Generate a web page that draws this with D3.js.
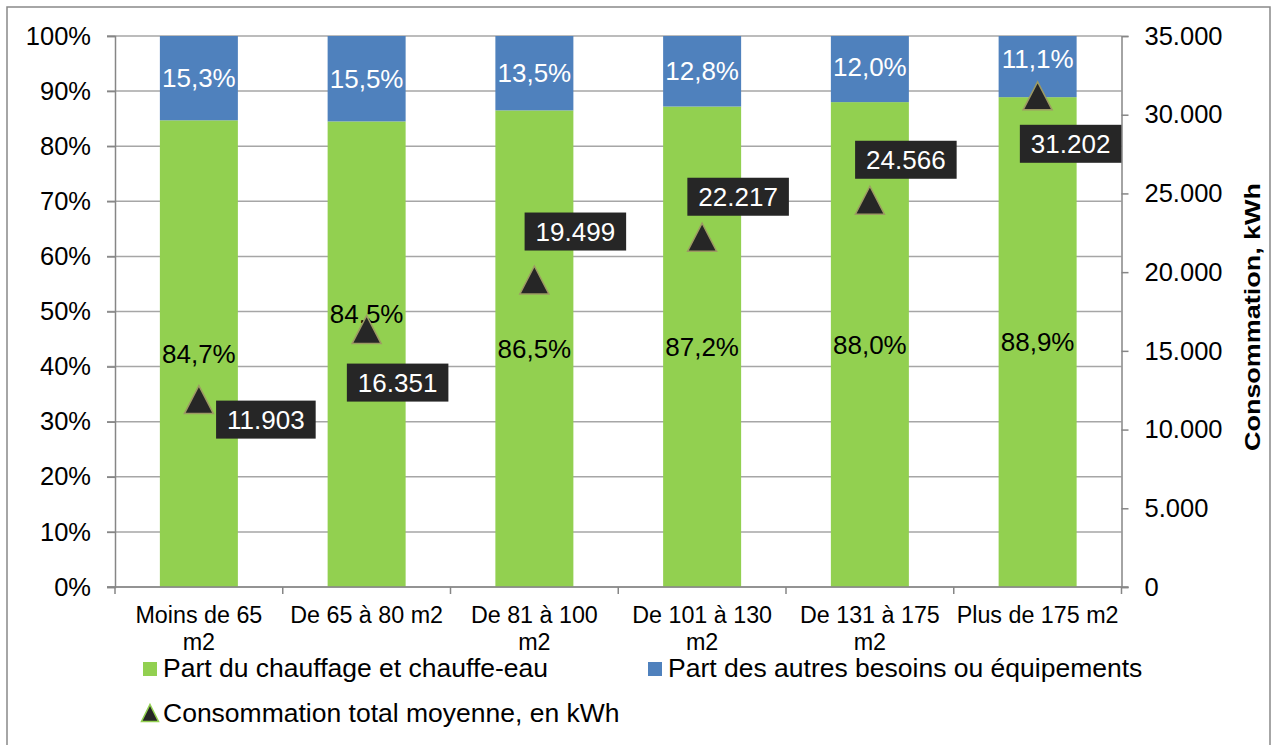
<!DOCTYPE html>
<html lang="fr">
<head>
<meta charset="utf-8">
<script src="https://cdn.jsdelivr.net/npm/d3@7"></script>
<style>
  html, body { margin: 0; padding: 0; background: #fff; }
  svg { display: block; font-family: "Liberation Sans", Arial, sans-serif; }
</style>
</head>
<body>
<svg id="chart" width="1271" height="745"></svg>
<script>
// ---- Data ----
const categories = ["Moins de 65\nm2", "De 65 à 80 m2", "De 81 à 100\nm2", "De 101 à 130\nm2", "De 131 à 175\nm2", "Plus de 175 m2"];
const heatingShare = [84.7, 84.5, 86.5, 87.2, 88.0, 88.9];   // % chauffage et chauffe-eau
const otherShare   = [15.3, 15.5, 13.5, 12.8, 12.0, 11.1];   // % autres besoins ou équipements
const consumption  = [11903, 16351, 19499, 22217, 24566, 31202]; // kWh
const percentTicks = [0, 10, 20, 30, 40, 50, 60, 70, 80, 90, 100];
const kwhTicks     = [0, 5000, 10000, 15000, 20000, 25000, 30000, 35000];
const legendLabels = ["Part du chauffage et chauffe-eau", "Part des autres besoins ou équipements", "Consommation total moyenne, en kWh"];
const rightAxisTitle = "Consommation, kWh";

// ---- Layout ----
const plot = { left: 115, right: 1121.5, top: 36, bottom: 587 };
const colors = { heat: "#92D050", other: "#4F81BD", grid: "#a6a6a6", axis: "#868686", marker: "#262626", markerStroke: "#9d9a63" };
// manual nudges of data labels (px), as placed in the original chart
const valueLabelOffsets = [[67, 20], [31, 53], [41, -48.5], [36, -40.5], [36, -40.5], [33, 48]];
const heatLabelShift  = [0, -40, 0, 0, 0, 0];
const otherLabelShift = [0, 0, 0, 0, -2, -8];

const fr = d3.formatLocale({ decimal: ",", thousands: ".", grouping: [3], currency: ["", " €"] });
const fmtPct = fr.format(".1f");
const fmtKwh = fr.format(",d");

const svg = d3.select("#chart");

// outer frame
svg.append("rect").attr("x", 7).attr("y", 7).attr("width", 1263).attr("height", 760)
  .attr("fill", "none").attr("stroke", "#898989").attr("stroke-width", 1.5);

const x = d3.scaleBand().domain(d3.range(categories.length)).range([plot.left, plot.right])
  .paddingInner(0.535).paddingOuter(0.2675);
const y = d3.scaleLinear().domain([0, 100]).range([plot.bottom, plot.top]);
const y2 = d3.scaleLinear().domain([0, 35000]).range([plot.bottom, plot.top]);

// horizontal gridlines
svg.append("g").selectAll("line").data(percentTicks).join("line")
  .attr("x1", plot.left - 8).attr("x2", plot.right)
  .attr("y1", d => y(d)).attr("y2", d => y(d))
  .attr("stroke", colors.grid).attr("stroke-width", 1.5);

// stacked bars
const bars = svg.append("g");
bars.selectAll("rect.heat").data(heatingShare).join("rect").attr("class", "heat")
  .attr("x", (d, i) => x(i)).attr("width", x.bandwidth())
  .attr("y", d => y(d)).attr("height", d => y(0) - y(d))
  .attr("fill", colors.heat);
bars.selectAll("rect.other").data(otherShare).join("rect").attr("class", "other")
  .attr("x", (d, i) => x(i)).attr("width", x.bandwidth())
  .attr("y", (d, i) => y(heatingShare[i] + d)).attr("height", (d, i) => y(heatingShare[i]) - y(heatingShare[i] + d))
  .attr("fill", colors.other);

// left axis
const leftAxis = svg.append("g").attr("transform", `translate(${plot.left},0)`)
  .call(d3.axisLeft(y).tickValues(percentTicks).tickFormat(d => d + "%").tickSize(8).tickPadding(16));
// right axis
const rightAxis = svg.append("g").attr("transform", `translate(${plot.right},0)`)
  .call(d3.axisRight(y2).tickValues(kwhTicks).tickFormat(d => fmtKwh(d)).tickSize(7).tickPadding(16));
[leftAxis, rightAxis].forEach(g => {
  g.select(".domain").attr("stroke", colors.axis).attr("stroke-width", 1.5);
  g.selectAll(".tick line").attr("stroke", colors.axis).attr("stroke-width", 1.5);
  g.selectAll(".tick text").attr("fill", "#000").attr("font-size", 25.5).attr("font-family", null);
});

// bottom axis with category boundary ticks
const boundaries = d3.range(categories.length + 1).map(i => plot.left + i * x.step());
const bottom = svg.append("g");
bottom.append("line").attr("x1", plot.left - 8).attr("x2", plot.right + 7)
  .attr("y1", plot.bottom).attr("y2", plot.bottom).attr("stroke", colors.axis).attr("stroke-width", 1.5);
bottom.selectAll("line.tick").data(boundaries).join("line").attr("class", "tick")
  .attr("x1", d => d).attr("x2", d => d).attr("y1", plot.bottom).attr("y2", plot.bottom + 7)
  .attr("stroke", colors.axis).attr("stroke-width", 1.5);
bottom.selectAll("text").data(categories).join("text")
  .attr("x", (d, i) => x(i) + x.bandwidth() / 2).attr("y", 623)
  .attr("text-anchor", "middle").attr("font-size", 23.3)
  .each(function (d) {
    const t = d3.select(this);
    d.split("\n").forEach((line, k) => {
      t.append("tspan").attr("x", t.attr("x")).attr("dy", k === 0 ? 0 : 27).text(line);
    });
  });

// percentage labels inside bars
svg.append("g").selectAll("text").data(heatingShare).join("text")
  .attr("x", (d, i) => x(i) + x.bandwidth() / 2)
  .attr("y", (d, i) => y(d / 2) + heatLabelShift[i])
  .attr("dy", "0.35em").attr("text-anchor", "middle").attr("font-size", 26).attr("fill", "#000")
  .text(d => fmtPct(d) + "%");
svg.append("g").selectAll("text").data(otherShare).join("text")
  .attr("x", (d, i) => x(i) + x.bandwidth() / 2)
  .attr("y", (d, i) => y(heatingShare[i] + d / 2) + otherLabelShift[i])
  .attr("dy", "0.35em").attr("text-anchor", "middle").attr("font-size", 26).attr("fill", "#fff")
  .text(d => fmtPct(d) + "%");

// triangle markers for total consumption
const triangle = (w, h) => `M0,${-h / 2}L${w / 2},${h / 2}L${-w / 2},${h / 2}Z`;
svg.append("g").selectAll("path").data(consumption).join("path")
  .attr("d", triangle(29, 28))
  .attr("transform", (d, i) => `translate(${x(i) + x.bandwidth() / 2},${y2(d)})`)
  .attr("fill", colors.marker).attr("stroke", colors.markerStroke).attr("stroke-width", 1.5);

// value callouts
const callouts = svg.append("g").selectAll("g").data(consumption).join("g")
  .attr("transform", (d, i) => `translate(${x(i) + x.bandwidth() / 2 + valueLabelOffsets[i][0]},${y2(d) + valueLabelOffsets[i][1]})`);
callouts.append("rect").attr("fill", colors.marker);
callouts.append("text").attr("text-anchor", "middle").attr("dy", "0.35em")
  .attr("font-size", 26).attr("fill", "#fff").text(d => fmtKwh(d));
callouts.each(function () {
  const g = d3.select(this);
  const w = g.select("text").node().getComputedTextLength() + 22;
  g.select("rect").attr("x", -w / 2).attr("y", -19).attr("width", w).attr("height", 38);
});

// right axis title
svg.append("text")
  .attr("transform", `translate(1260,317) rotate(-90)`)
  .attr("text-anchor", "middle").attr("font-weight", "bold").attr("font-size", 22)
  .attr("textLength", 268).attr("lengthAdjust", "spacingAndGlyphs")
  .text(rightAxisTitle);

// legend
const legend = svg.append("g").attr("font-size", 26.5);
legend.append("rect").attr("x", 143).attr("y", 662).attr("width", 14).attr("height", 14).attr("fill", colors.heat);
legend.append("text").attr("x", 163).attr("y", 677).text(legendLabels[0]);
legend.append("rect").attr("x", 648).attr("y", 662).attr("width", 14).attr("height", 14).attr("fill", colors.other);
legend.append("text").attr("x", 668).attr("y", 677).text(legendLabels[1]);
legend.append("path").attr("d", triangle(17, 17)).attr("transform", "translate(150,713)")
  .attr("fill", colors.marker).attr("stroke", colors.heat).attr("stroke-width", 1.5);
legend.append("text").attr("x", 163).attr("y", 722).text(legendLabels[2]);
</script>
</body>
</html>
